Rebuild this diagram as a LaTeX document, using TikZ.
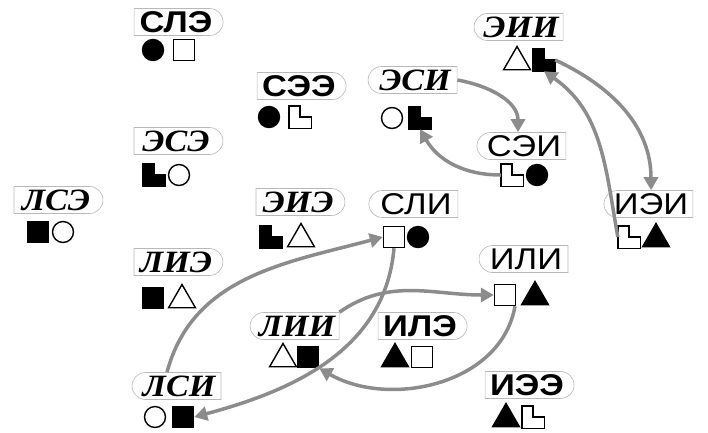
\documentclass[tikz,border=0pt]{standalone}
\usepackage{fontspec}
\newfontfamily\sansf{Liberation Sans}[FakeStretch=1.15]
\newfontfamily\scrf{Liberation Serif}[FakeStretch=1.1]
\usetikzlibrary{shapes.misc,shapes.geometric,arrows.meta}
\definecolor{boxgray}{gray}{0.72}
\definecolor{arrgray}{gray}{0.55}
\newcommand{\lfig}[2]{\draw[fill=#2, line width=1.4pt] (#1.north west) -- (#1.north) -- (#1.center) -- (#1.east) -- (#1.south east) -- (#1.south west) -- cycle;}
\tikzset{
	tbox/.style={rounded rectangle, draw=boxgray, line width=0.6pt, fill=white, minimum width=89pt, minimum height=27pt, inner sep=0pt},
	ext/.style={tbox, rounded rectangle left arc=none},
	intr/.style={tbox, rounded rectangle right arc=none},
	scr/.style={font=\scrf\bfseries\itshape\fontsize{31}{31}\selectfont},
	pln/.style={font=\sansf\fontsize{30}{30}\selectfont},
	bld/.style={font=\sansf\bfseries\fontsize{30}{30}\selectfont},
	circ/.style={circle, draw, line width=1.4pt, minimum size=21pt, inner sep=0pt, fill=#1},
	sqr/.style={rectangle, draw, line width=1.4pt, minimum size=21pt, inner sep=0pt, fill=#1},
	tri/.style={regular polygon, regular polygon sides=3, draw, line width=1.4pt, minimum size=31pt, inner sep=0pt, fill=#1},
	lbx/.style={rectangle, minimum size=22pt, inner sep=0pt},
	link/.style={draw=arrgray, line width=3.5pt, -{Triangle[length=13pt, width=14pt]}}
}

\begin{document}
\begin{tikzpicture}[x=1pt, y=-1pt]
	\useasboundingbox (0,0) rectangle (708,432);

	% top row
	\node[ext,bld] (sle) at (176,22) {СЛЭ};
	\node[circ=black] (sleA) at (153,50) {};
	\node[sqr=white] (sleB) at (184,50) {};

	\node[intr,scr] (eii) at (521,27) {ЭИИ};
	\node[tri=white] (eiiA) at (517,62) {};
	\node[lbx] (eiiB) at (544,60) {};
	\lfig{eiiB}{black}

	\node[ext,bld] (see) at (299,86) {СЭЭ};
	\node[circ=black] (seeA) at (269,117) {};
	\node[lbx] (seeB) at (300,117) {};
	\lfig{seeB}{white}

	\node[intr,scr] (esi) at (415,80) {ЭСИ};
	\node[circ=white] (esiA) at (392,118) {};
	\node[lbx] (esiB) at (420,118) {};
	\lfig{esiB}{black}

	\node[ext,scr] (ese) at (176,141) {ЭСЭ};
	\node[lbx] (eseA) at (154,175) {};
	\lfig{eseA}{black}
	\node[circ=white] (eseB) at (179,175) {};

	\node[intr,pln] (sei) at (524,146) {СЭИ};
	\node[lbx] (seiA) at (512,175) {};
	\lfig{seiA}{white}
	\node[circ=black] (seiB) at (537,175) {};

	% middle
	\node[ext,scr] (lse) at (56,200) {ЛСЭ};
	\node[sqr=black] (lseA) at (38,232) {};
	\node[circ=white] (lseB) at (63,232) {};

	\node[ext,scr] (eie) at (298,202) {ЭИЭ};
	\node[lbx] (eieA) at (271,237) {};
	\lfig{eieA}{black}
	\node[tri=white] (eieB) at (301,239) {};

	\node[intr,pln] (sli) at (416,204) {СЛИ};
	\node[sqr=white] (sliA) at (394,237) {};
	\node[circ=black] (sliB) at (418,237) {};

	\node[intr,pln] (iei) at (651,204) {ИЭИ};
	\node[lbx] (ieiA) at (629,237) {};
	\lfig{ieiA}{white}
	\node[tri=black] (ieiB) at (656,239) {};

	\node[ext,scr] (lie) at (176,262) {ЛИЭ};
	\node[sqr=black] (lieA) at (153,298) {};
	\node[tri=white] (lieB) at (182,300) {};

	\node[intr,pln] (ili) at (526,259) {ИЛИ};
	\node[sqr=white] (iliA) at (505,295) {};
	\node[tri=black] (iliB) at (535,297) {};

	% bottom
	\node[intr,scr] (lii) at (297,326) {ЛИИ};
	\node[tri=white] (liiA) at (283,359) {};
	\node[sqr=black] (liiB) at (308,357) {};

	\node[ext,bld] (ile) at (420,326) {ИЛЭ};
	\node[tri=black] (ileA) at (395,359) {};
	\node[sqr=white] (ileB) at (422,357) {};

	\node[intr,scr] (lsi) at (179,386) {ЛСИ};
	\node[circ=white] (lsiA) at (155,417) {};
	\node[sqr=black] (lsiB) at (183,417) {};

	\node[ext,bld] (iee) at (527,385) {ИЭЭ};
	\node[tri=black] (ieeA) at (506,419) {};
	\node[lbx] (ieeB) at (533,417) {};
	\lfig{ieeB}{white}

	% arrows
	\draw[link] (esi.east) to[out=-10, in=90] ([xshift=-6pt]sei.north);
	\draw[link] (seiA.west) to[out=180, in=-60] (esiB.south);
	\draw[link] (eiiB.east) to[out=-25, in=90] (iei.north);
	\draw[link] (ieiA.west) to[out=100, in=-35] (eiiB.south);
	\draw[link] ([xshift=-12pt]lsi.north) to[out=75, in=195] (sliA.west);
	\draw[link] (sliA.south) to[out=-95, in=15] (lsiB.east);
	\draw[link] (lii.north east) to[out=35, in=180] (iliA.west);
	\draw[link] ([xshift=10pt]iliA.south) to[out=-100, in=-30] (liiB.south east);
\end{tikzpicture}
\end{document}
